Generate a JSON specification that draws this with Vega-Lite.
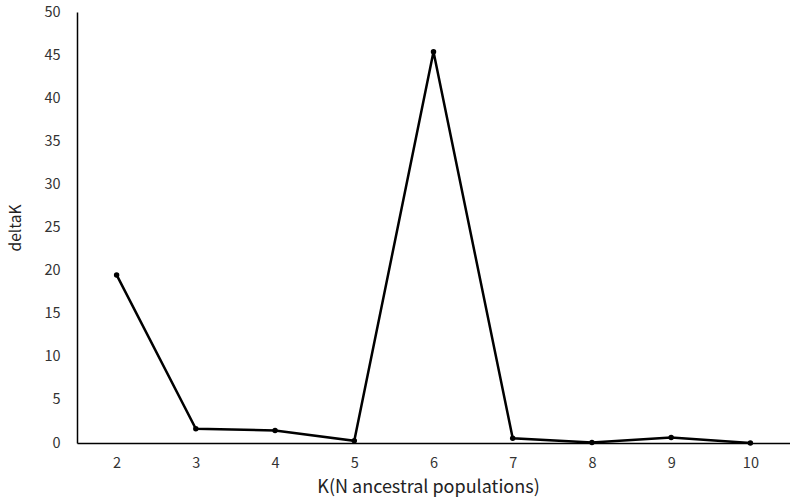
{
  "$schema": "https://vega.github.io/schema/vega-lite/v6.json",
  "width": 713,
  "height": 431,
  "autosize": {"type": "none"},
  "padding": {"left": 77, "top": 12, "right": 0, "bottom": 58},
  "background": "white",
  "config": {
    "view": {"stroke": null},
    "font": "Noto Sans CJK JP"
  },
  "data": {
    "values": [
      {"K": "2", "deltaK": 19.5},
      {"K": "3", "deltaK": 1.65},
      {"K": "4", "deltaK": 1.45},
      {"K": "5", "deltaK": 0.25},
      {"K": "6", "deltaK": 45.4},
      {"K": "7", "deltaK": 0.55},
      {"K": "8", "deltaK": 0.07},
      {"K": "9", "deltaK": 0.65},
      {"K": "10", "deltaK": 0.0}
    ]
  },
  "encoding": {
    "x": {
      "field": "K",
      "type": "ordinal",
      "sort": null,
      "scale": {"type": "point", "padding": 0.5},
      "axis": {
        "title": "K(N ancestral populations)",
        "labelAngle": 0,
        "ticks": false,
        "domainColor": "#000000",
        "domainWidth": 1.5,
        "labelFontSize": 14.5,
        "labelColor": "#333333",
        "labelPadding": 13,
        "titleFontSize": 18,
        "titleFontWeight": "normal",
        "titleColor": "#222222",
        "titlePadding": 9,
        "titleX": 351
      }
    },
    "y": {
      "field": "deltaK",
      "type": "quantitative",
      "scale": {"domain": [0, 50], "nice": false},
      "axis": {
        "title": "deltaK",
        "values": [0, 5, 10, 15, 20, 25, 30, 35, 40, 45, 50],
        "grid": false,
        "ticks": false,
        "domainColor": "#000000",
        "domainWidth": 1.5,
        "labelFontSize": 14.5,
        "labelColor": "#333333",
        "labelPadding": 17,
        "titleFontSize": 15.5,
        "titleFontWeight": "normal",
        "titleColor": "#222222",
        "titlePadding": 20
      }
    }
  },
  "layer": [
    {"mark": {"type": "line", "color": "#000000", "strokeWidth": 2.5}},
    {"mark": {"type": "point", "filled": true, "color": "#000000", "size": 30, "opacity": 1}}
  ]
}
